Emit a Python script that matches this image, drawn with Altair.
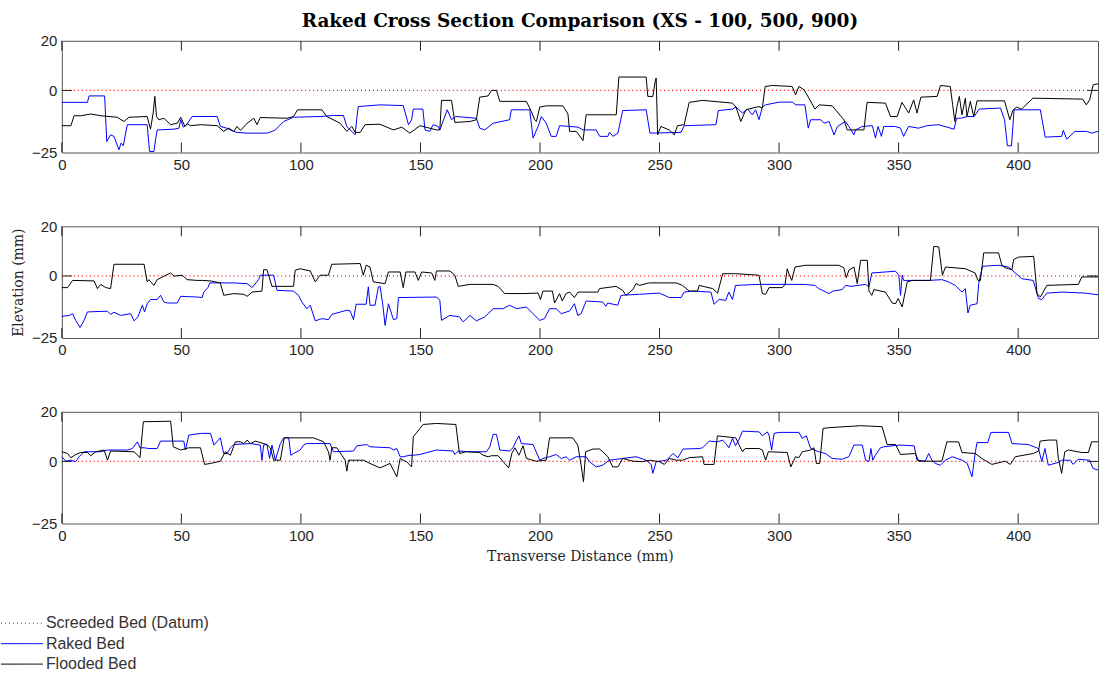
import altair as alt
import pandas as pd

# ---------------- values ----------------
X_MAX = 433.4
Y_DOMAIN = [-25, 20]
X_TICKS = [0, 50, 100, 150, 200, 250, 300, 350, 400]
Y_TICKS = [-25, 0, 20]
Y_INNER_TICKS = [0]
TITLE = "Raked Cross Section Comparison (XS - 100, 500, 900)"
X_TITLE = "Transverse Distance (mm)"
Y_TITLE = "Elevation (mm)"
LEGEND_LABELS = ["Screeded Bed (Datum)", "Raked Bed", "Flooded Bed"]
LEGEND_COLORS = ["#ff0000", "#0000ff", "#000000"]
LEGEND_DASHES = [[1, 3], [1, 0], [1, 0]]

datum_x = [0, 433.4]
datum_y = [0, 0]

xs100_raked = [(0,-4.8),(10.7,-4.8),(11.4,-2.2),(17.9,-2.2),(18.8,-20.6),(20.4,-17.9),(21.8,-18.5),(23.9,-23.9),(24.8,-21.2),(25.7,-22.3),(26.7,-17.2),(27.4,-13.8),(35.7,-13.8),(36.7,-24.6),(38.5,-24.6),(39.2,-19.9),(39.9,-15.9),(46.9,-15.6),(49.0,-15.2),(49.7,-11.8),(50.8,-14.8),(52.2,-13.8),(54.5,-10.5),(65.0,-10.5),(66.3,-14.5),(69.0,-15.2),(71.9,-16.5),(73.3,-16.9),(77.5,-17.2),(85.8,-17.2),(87.9,-16.5),(89.3,-15.9),(92.8,-12.5),(96.9,-10.8),(108.0,-10.5),(113.6,-10.1),(117.8,-10.1),(119.2,-14.5),(122.7,-17.9),(123.3,-11.8),(124.0,-6.5),(133.0,-5.8),(142.8,-6.1),(145.0,-13.8),(146.3,-11.8),(147.0,-7.5),(151.0,-7.5),(151.9,-15.9),(153.9,-16.5),(155.3,-13.8),(157.4,-14.5),(158.1,-15.9),(161.2,-7.8),(163.0,-11.8),(164.8,-10.5),(173.4,-11.2),(174.8,-15.2),(176.9,-15.9),(180.4,-13.2),(187.3,-11.8),(188.0,-7.8),(195.7,-7.8),(197.1,-19.2),(199.2,-14.5),(200.6,-10.5),(202.6,-13.2),(204.7,-18.5),(206.8,-18.5),(208.2,-14.2),(212.4,-14.5),(215.9,-14.8),(218.0,-15.9),(223.5,-15.9),(225.0,-18.5),(228.4,-18.5),(229.1,-16.8),(230.5,-18.5),(232.6,-17.2),(234.6,-8.1),(244.4,-7.8),(246.0,-17.2),(259.0,-16.9),(260.3,-14.2),(273.6,-13.8),(274.6,-8.1),(280.5,-7.5),(282.0,-6.7),(284.7,-9.1),(286.8,-7.5),(288.8,-9.8),(290.2,-7.8),(291.6,-11.8),(293.0,-6.7),(294.4,-5.8),(300.0,-4.7),(305.5,-4.7),(307.0,-5.8),(310.8,-5.8),(312.2,-15.2),(313.2,-11.8),(317.4,-11.8),(318.8,-13.2),(320.9,-12.5),(323.0,-17.9),(324.4,-14.5),(327.8,-12.5),(329.9,-15.6),(331.3,-17.9),(332.0,-15.9),(334.8,-14.5),(339.0,-14.2),(340.3,-19.2),(341.4,-14.5),(342.8,-18.5),(343.8,-14.5),(348.7,-14.5),(350.8,-15.2),(352.1,-18.5),(354.2,-14.5),(358.3,-15.2),(361.9,-14.2),(366.7,-13.8),(373.2,-15.6),(374.2,-11.2),(376.0,-11.2),(378.8,-10.5),(381.6,-10.5),(383.7,-7.5),(392.6,-7.1),(394.3,-11.8),(395.5,-22.3),(397.2,-22.3),(398.3,-7.8),(409.3,-7.8),(411.3,-18.8),(418.2,-18.5),(418.9,-16.1),(420.3,-19.6),(423.8,-16.5),(428.6,-16.5),(430.7,-17.2),(433.4,-16.5)]

xs100_flooded = [(0,-14.2),(3.8,-14.2),(5.1,-10.2),(7.9,-10.2),(12.1,-9.5),(16.3,-10.2),(23.2,-10.8),(26.0,-12.5),(28.1,-10.8),(35.7,-10.5),(37.1,-15.6),(38.2,-9.1),(38.9,-2.4),(39.6,-10.5),(40.6,-11.8),(42.7,-11.2),(45.5,-13.8),(48.3,-13.2),(49.7,-10.8),(51.5,-14.5),(52.4,-13.4),(53.8,-14.2),(58.0,-13.8),(65.0,-14.2),(67.7,-16.5),(69.8,-15.2),(71.9,-16.5),(73.3,-14.5),(74.7,-16.1),(77.5,-13.2),(80.3,-11.2),(81.6,-13.8),(83.0,-10.9),(94.2,-11.2),(96.9,-10.5),(98.6,-7.8),(108.8,-7.8),(110.8,-10.5),(116.4,-13.2),(119.2,-16.5),(121.3,-14.5),(122.7,-16.9),(124.8,-16.9),(126.8,-13.8),(133.0,-13.6),(138.7,-15.9),(142.2,-14.8),(145.6,-17.2),(149.8,-14.2),(156.7,-15.9),(158.1,-15.9),(158.8,-4.0),(163.0,-4.0),(164.4,-12.9),(170.7,-12.5),(173.4,-11.8),(174.8,-2.7),(178.3,-2.2),(179.7,0.0),(181.8,0.0),(183.2,-4.4),(194.3,-4.4),(196.4,-8.5),(197.8,-11.8),(198.5,-12.5),(199.9,-6.7),(202.6,-6.2),(209.6,-6.2),(211.7,-9.5),(212.4,-16.5),(215.2,-16.5),(218.0,-20.2),(219.3,-9.8),(231.9,-9.8),(233.0,5.4),(244.4,5.4),(245.1,-2.4),(247.2,-2.4),(248.3,4.3),(248.6,5.0),(249.2,-17.9),(250.6,-14.5),(254.0,-15.9),(256.2,-17.9),(257.5,-14.2),(260.3,-13.8),(262.4,-4.8),(268.0,-4.0),(280.5,-5.1),(282.0,-6.7),(284.0,-12.5),(286.1,-7.8),(288.9,-7.1),(291.6,-6.5),(293.0,-7.1),(294.2,1.6),(297.2,2.0),(305.5,1.6),(306.9,-1.8),(308.3,1.6),(310.4,0.3),(312.5,-3.1),(315.0,-7.5),(316.8,-5.8),(322.2,-6.2),(327.1,-11.8),(328.5,-15.9),(335.5,-15.9),(336.8,-4.8),(344.5,-5.1),(346.6,-10.5),(349.4,-10.5),(351.4,-4.8),(354.2,-9.1),(356.3,-3.8),(357.7,-9.1),(359.3,-2.7),(366.1,-2.4),(367.5,2.0),(371.6,1.6),(372.6,-5.8),(373.5,-12.5),(374.4,-6.5),(375.4,-2.4),(376.5,-9.8),(377.9,-3.1),(378.6,-10.5),(380.0,-4.4),(381.4,-10.5),(382.8,-4.2),(394.3,-4.2),(396.5,-11.8),(397.9,-7.8),(399.3,-6.7),(401.4,-7.5),(406.2,-3.1),(427.0,-3.5),(428.5,-5.8),(429.9,-3.8),(431.4,2.3),(433.4,2.7)]

xs500_raked = [(0,-16.3),(3.1,-15.9),(4.5,-15.2),(5.8,-17.9),(7.6,-20.8),(9.3,-17.9),(10.7,-14.5),(19.1,-14.2),(20.4,-15.5),(21.8,-14.6),(24.6,-15.9),(28.8,-15.2),(30.2,-18.1),(31.8,-16.5),(33.7,-11.8),(34.6,-14.5),(35.7,-11.2),(37.1,-9.5),(39.9,-9.5),(41.3,-7.8),(42.7,-10.5),(44.1,-10.9),(48.3,-10.9),(49.7,-8.2),(56.6,-8.5),(58.7,-8.7),(59.4,-6.5),(61.1,-4.7),(61.9,-2.8),(71.9,-2.8),(77.5,-3.1),(79.6,-4.7),(82.3,-1.5),(83.0,0.3),(88.6,0.3),(90.0,-5.8),(96.9,-6.1),(99.0,-7.8),(100.4,-10.5),(102.5,-13.2),(103.9,-11.8),(106.0,-18.1),(108.8,-17.2),(111.5,-17.6),(112.9,-15.5),(119.2,-13.8),(120.6,-14.1),(122.0,-17.6),(123.1,-11.4),(127.3,-11.4),(128.2,-4.4),(128.9,-11.8),(131.0,-11.8),(132.4,-4.4),(133.1,-4.2),(134.2,-11.2),(135.2,-19.9),(136.6,-11.2),(138.7,-17.6),(140.1,-17.2),(140.8,-8.7),(156.8,-8.5),(158.1,-9.8),(158.8,-17.9),(162.3,-15.9),(166.3,-16.5),(167.9,-18.5),(170.7,-15.9),(173.4,-18.1),(176.9,-16.5),(180.4,-13.2),(184.5,-13.2),(187.3,-11.8),(190.2,-13.2),(194.3,-12.5),(197.1,-15.2),(199.9,-17.9),(201.9,-17.2),(204.0,-13.2),(206.8,-13.2),(208.9,-15.2),(212.4,-14.1),(214.4,-11.2),(215.8,-15.9),(217.2,-15.2),(219.3,-10.1),(226.2,-10.5),(227.6,-12.2),(228.3,-10.9),(232.5,-11.8),(233.9,-7.8),(241.6,-7.4),(249.9,-6.9),(254.1,-8.7),(259.0,-8.7),(260.3,-6.5),(263.8,-6.1),(271.5,-6.5),(272.8,-11.4),(274.9,-9.5),(277.7,-9.8),(279.0,-6.5),(280.5,-9.5),(281.8,-3.8),(291.6,-3.4),(310.0,-3.4),(315.0,-3.8),(316.6,-5.1),(320.9,-7.1),(322.5,-6.1),(326.4,-5.5),(327.8,-3.8),(330.0,-4.2),(336.2,-3.4),(337.6,-4.4),(338.8,1.2),(348.7,1.9),(350.1,0.3),(350.8,-7.8),(351.5,0.3),(352.1,-1.8),(362.6,-1.8),(368.1,-1.5),(370.9,-2.4),(373.7,-3.8),(376.5,-6.5),(377.9,-5.1),(379.0,-14.9),(380.0,-11.8),(382.8,-11.2),(383.5,-3.1),(385.1,3.9),(391.8,4.3),(396.0,3.6),(401.5,-1.1),(406.3,-1.8),(408.5,-9.1),(409.9,-9.5),(412.0,-6.9),(418.2,-6.5),(427.9,-6.9),(433.4,-7.6)]

xs500_flooded = [(0,-4.7),(2.4,-4.7),(4.5,-1.8),(13.5,-2.0),(14.9,-5.1),(16.3,-3.4),(18.4,-4.7),(20.4,-5.1),(21.8,4.7),(34.4,4.7),(35.7,-2.4),(36.4,-1.5),(38.5,-3.8),(39.9,-1.5),(42.7,-0.1),(45.5,1.2),(46.9,-0.1),(50.3,0.3),(52.4,-1.5),(56.6,-1.8),(58.7,-1.8),(62.2,-2.0),(66.3,-2.8),(67.7,-7.8),(71.9,-7.1),(76.1,-7.4),(77.5,-8.2),(79.6,-6.5),(83.7,-6.1),(84.4,2.5),(85.8,2.5),(87.9,-4.2),(96.9,-4.2),(97.6,2.3),(99.7,2.9),(103.9,2.0),(106.0,-2.4),(108.0,0.3),(111.5,0.3),(112.9,4.7),(124.8,5.0),(126.1,0.3),(127.3,4.3),(128.9,3.6),(130.3,-2.4),(135.2,-3.1),(136.6,1.6),(141.5,1.6),(142.8,-4.7),(143.9,1.6),(147.7,1.6),(149.1,-1.8),(150.5,1.6),(154.7,1.2),(156.0,-1.8),(156.7,2.0),(162.3,2.0),(164.4,0.3),(165.8,-4.2),(170.7,-3.4),(180.4,-3.4),(182.5,-4.2),(185.2,-7.1),(192.9,-7.1),(199.2,-6.9),(200.2,-9.5),(201.2,-6.1),(205.2,-6.1),(206.1,-10.9),(208.2,-7.1),(209.3,-10.1),(210.9,-7.1),(212.4,-6.5),(214.4,-8.7),(215.9,-6.5),(224.2,-6.5),(224.9,-5.1),(231.8,-4.2),(234.6,-5.8),(236.0,-7.8),(238.8,-5.5),(240.2,-3.1),(241.6,-3.8),(244.4,-3.1),(245.8,-2.8),(256.9,-2.8),(259.6,-3.8),(262.4,-6.1),(265.9,-6.1),(266.6,-3.8),(272.2,-5.1),(274.3,-6.9),(276.4,0.9),(281.8,0.9),(291.6,0.3),(293.0,-7.1),(294.4,-7.4),(295.8,-4.7),(301.4,-4.7),(302.5,-3.4),(303.4,2.9),(304.2,0.7),(305.3,-1.8),(306.7,3.6),(311.1,4.3),(325.0,4.3),(327.1,3.3),(328.1,-0.7),(329.2,2.3),(331.3,3.6),(332.7,-3.1),(334.1,6.3),(336.9,6.3),(337.6,-6.1),(338.8,-7.8),(339.7,-5.5),(344.5,-6.5),(347.3,-10.9),(348.7,-11.2),(349.8,-9.1),(351.5,-12.5),(353.6,-2.4),(355.7,-1.8),(363.3,-1.8),(364.7,11.9),(366.8,11.7),(368.3,0.3),(369.6,3.6),(377.9,2.9),(382.0,1.2),(383.2,-1.8),(384.2,-1.8),(385.6,9.3),(391.8,9.3),(393.2,4.3),(394.6,3.3),(397.4,2.5),(398.1,6.6),(400.2,7.6),(406.5,7.9),(407.9,-7.1),(409.3,-8.5),(412.0,-3.8),(425.2,-3.4),(426.6,-0.4),(433.4,-0.4)]

xs900_raked = [(0,1.9),(1.7,0.1),(3.8,0.5),(5.8,-0.1),(7.2,1.9),(9.3,3.9),(16.3,3.9),(19.1,4.6),(27.4,4.6),(29.5,5.2),(31.6,7.9),(32.7,5.5),(34.4,5.5),(36.4,5.2),(39.9,5.2),(41.3,8.2),(51.0,8.2),(51.7,4.6),(53.1,10.6),(58.0,11.3),(62.2,11.3),(63.6,6.6),(66.3,9.5),(67.7,3.2),(69.1,3.2),(70.5,5.5),(71.9,6.8),(78.9,7.2),(83.0,6.6),(83.7,0.5),(84.4,6.6),(85.8,6.8),(86.9,1.2),(87.9,6.6),(89.3,0.5),(91.4,7.2),(92.8,9.5),(94.9,9.5),(95.8,2.5),(96.9,3.2),(99.7,4.6),(101.1,6.6),(102.5,7.2),(112.2,7.2),(113.6,3.9),(122.0,4.2),(123.4,6.3),(127.5,6.8),(128.9,5.9),(137.3,5.5),(138.7,4.6),(140.1,5.2),(141.5,1.9),(142.8,1.9),(145.6,2.5),(147.0,2.5),(149.8,2.8),(156.7,4.6),(163.7,4.2),(164.4,2.8),(165.8,4.2),(170.7,3.9),(177.6,3.9),(179.0,5.9),(180.4,10.9),(181.8,10.9),(183.2,4.6),(187.3,4.2),(188.7,5.5),(190.2,8.6),(191.2,10.3),(192.2,7.2),(197.1,6.8),(199.9,0.5),(201.2,1.2),(204.0,1.9),(206.8,2.8),(208.9,1.2),(210.9,1.9),(212.4,0.5),(215.2,1.9),(219.3,1.9),(220.7,-0.1),(223.5,-2.2),(226.2,-1.5),(229.0,0.5),(240.2,1.9),(244.4,0.5),(246.5,-1.2),(247.2,-4.8),(248.6,-0.1),(252.9,0.5),(255.6,3.2),(257.7,1.5),(259.8,5.0),(266.6,5.2),(268.0,5.5),(270.8,8.2),(274.3,7.9),(276.4,8.6),(277.7,7.2),(279.0,5.5),(280.5,9.3),(281.8,6.3),(283.3,9.0),(284.7,12.2),(291.7,11.9),(293.0,10.3),(295.1,11.9),(295.8,10.6),(296.9,4.6),(297.9,11.3),(300.0,11.7),(308.3,11.7),(309.7,9.3),(311.4,10.3),(313.2,5.2),(316.6,3.9),(319.4,3.2),(322.2,1.2),(326.4,0.9),(329.2,1.9),(331.3,6.6),(334.8,6.6),(336.2,0.5),(337.6,-0.1),(338.4,5.2),(339.2,0.5),(340.3,2.5),(342.4,5.5),(343.8,5.9),(350.4,6.6),(356.5,6.3),(357.7,0.5),(361.1,0.1),(362.6,3.2),(363.9,0.5),(365.3,-0.8),(367.5,-1.5),(369.6,0.5),(372.4,1.9),(376.6,0.5),(378.7,-0.8),(380.7,-6.2),(382.1,3.9),(382.8,7.6),(387.3,7.6),(388.6,11.7),(396.0,11.7),(397.4,7.2),(404.3,6.8),(408.5,5.2),(409.9,-0.1),(411.2,5.2),(412.6,-1.5),(416.8,-0.4),(418.2,0.5),(421.7,0.5),(423.0,-1.2),(425.1,0.9),(429.9,0.5),(431.3,-2.8),(433.4,-3.5)]

xs900_flooded = [(0,3.9),(2.4,3.2),(3.8,1.5),(5.8,2.8),(7.9,3.6),(10.7,3.6),(12.1,2.3),(14.2,3.9),(17.7,4.6),(19.1,0.5),(20.4,4.2),(30.2,3.9),(32.7,1.5),(34.1,16.0),(45.5,16.2),(46.6,5.9),(49.7,4.6),(53.1,5.5),(58.0,5.5),(59.7,-1.2),(62.2,-0.8),(66.3,0.1),(68.4,3.9),(70.5,2.5),(72.6,7.9),(74.7,7.9),(76.1,7.2),(77.5,8.6),(78.9,7.2),(80.9,8.2),(85.8,6.8),(87.2,5.5),(88.6,0.5),(91.4,0.5),(93.0,9.5),(105.3,9.5),(109.5,7.9),(111.5,3.9),(112.2,0.5),(112.9,5.5),(115.0,5.5),(117.1,2.5),(118.5,0.5),(119.2,-3.9),(119.9,0.5),(126.1,0.5),(128.9,-0.8),(133.1,-2.6),(137.3,-0.8),(140.1,-6.2),(141.5,1.2),(142.8,0.5),(144.2,-0.1),(146.3,-2.2),(147.0,9.9),(149.8,13.3),(151.1,14.9),(156.7,15.3),(164.8,14.9),(166.3,3.2),(169.1,3.9),(174.8,3.6),(176.2,2.5),(178.3,1.9),(179.7,2.3),(182.5,2.3),(184.6,-0.1),(186.9,-2.6),(188.2,3.2),(189.5,5.5),(191.2,2.5),(192.9,6.3),(194.3,1.2),(198.5,0.1),(202.6,0.5),(204.0,9.5),(213.7,9.5),(215.8,6.6),(217.2,-1.5),(218.2,-8.2),(219.1,3.9),(222.2,5.0),(225.0,5.0),(228.4,1.9),(230.4,-2.2),(232.6,-2.2),(234.6,1.2),(238.8,0.1),(243.0,-0.1),(245.8,0.5),(249.9,-0.1),(252.0,-1.2),(254.1,1.2),(256.9,0.5),(259.6,0.5),(262.4,1.5),(268.0,1.9),(268.6,-1.2),(272.8,-1.2),(274.2,10.3),(281.9,9.5),(283.3,6.6),(284.7,3.9),(285.8,5.2),(291.6,5.2),(293.0,4.6),(294.4,0.5),(295.5,3.9),(303.4,3.6),(304.9,-2.2),(306.2,0.5),(306.9,1.9),(308.3,1.5),(309.7,3.9),(313.2,4.6),(314.6,5.5),(315.6,-0.8),(317.0,-0.8),(318.4,13.3),(320.9,13.6),(334.1,14.4),(343.1,14.0),(345.2,6.8),(348.7,6.8),(350.8,2.8),(357.0,3.2),(358.4,0.1),(368.1,0.1),(370.2,7.9),(375.1,7.9),(376.5,3.6),(382.0,3.2),(384.8,1.2),(389.0,-1.2),(394.6,0.1),(396.7,-1.2),(398.8,1.9),(406.4,3.2),(408.5,4.2),(409.2,8.2),(412.6,8.6),(416.1,8.6),(416.8,1.2),(418.2,-4.8),(419.5,3.9),(421.0,4.6),(426.6,3.6),(429.4,3.6),(430.7,7.9),(433.4,7.9)]

# ---------------- layout constants ----------------
PANEL_W = 1039
PANEL_H = 112
SANS = "Liberation Sans"
SERIF = "DejaVu Serif"


def frame(points):
    return pd.DataFrame({"x": [p[0] for p in points],
                         "y": [p[1] for p in points],
                         "i": list(range(len(points)))})


def panel(raked, flooded, x_title=None, y_title=None, title=None):
    xs = alt.Scale(domain=[0, X_MAX], nice=False, zero=False)
    ys = alt.Scale(domain=Y_DOMAIN, nice=False, zero=False)
    xaxis = alt.Axis(values=X_TICKS, tickSize=0, domain=False, grid=False,
                     labelFlush=False, labelPadding=5, titlePadding=6,
                     labelFont=SANS, labelFontSize=15, labelColor="#262626",
                     titleFont=SERIF, titleFontSize=14, titleFontWeight="normal",
                     titleColor="#262626")
    yaxis = alt.Axis(values=Y_TICKS, tickSize=0, domain=False, grid=False,
                     labelFlush=False, labelPadding=5, titlePadding=6,
                     labelFont=SANS, labelFontSize=15, labelColor="#262626",
                     titleFont=SERIF, titleFontSize=14, titleFontWeight="normal",
                     titleColor="#262626")
    X = alt.X("x:Q", scale=xs, axis=xaxis, title=x_title)
    Y = alt.Y("y:Q", scale=ys, axis=yaxis, title=y_title)

    datum = alt.Chart(frame(list(zip(datum_x, datum_y)))).mark_line(
        color=LEGEND_COLORS[0], strokeDash=LEGEND_DASHES[0], strokeWidth=1.2
    ).encode(x=X, y=Y, order="i:Q")
    rk = alt.Chart(frame(raked)).mark_line(color=LEGEND_COLORS[1], strokeWidth=1).encode(
        x=X, y=Y, order="i:Q")
    fl = alt.Chart(frame(flooded)).mark_line(color=LEGEND_COLORS[2], strokeWidth=1).encode(
        x=X, y=Y, order="i:Q")

    tdf = pd.DataFrame({"x": X_TICKS})
    top_ticks = alt.Chart(tdf).mark_rule(color="#222222", strokeWidth=1).encode(
        x=alt.X("x:Q", scale=xs), y=alt.value(0), y2=alt.value(10))
    bot_ticks = alt.Chart(tdf).mark_rule(color="#222222", strokeWidth=1).encode(
        x=alt.X("x:Q", scale=xs), y=alt.value(PANEL_H - 10), y2=alt.value(PANEL_H))
    ydf = pd.DataFrame({"y": Y_INNER_TICKS})
    left_ticks = alt.Chart(ydf).mark_rule(color="#222222", strokeWidth=1).encode(
        y=alt.Y("y:Q", scale=ys), x=alt.value(0), x2=alt.value(10))
    right_ticks = alt.Chart(ydf).mark_rule(color="#222222", strokeWidth=1).encode(
        y=alt.Y("y:Q", scale=ys), x=alt.value(PANEL_W - 10), x2=alt.value(PANEL_W))

    ch = alt.layer(datum, rk, fl, top_ticks, bot_ticks, left_ticks, right_ticks).properties(
        width=PANEL_W, height=PANEL_H,
        view=alt.ViewBackground(stroke="#555555", strokeWidth=1))
    if title is not None:
        ch = ch.properties(title=alt.TitleParams(
            text=title, font=SERIF, fontSize=18.5, fontWeight="bold", color="#000000",
            anchor="middle", offset=3))
    return ch


p1 = panel(xs100_raked, xs100_flooded, title=TITLE)
p2 = panel(xs500_raked, xs500_flooded, y_title=Y_TITLE)
p3 = panel(xs900_raked, xs900_flooded, x_title=X_TITLE)

# legend drawn as its own small view
ldf = pd.DataFrame({"label": LEGEND_LABELS})
lscale_y = alt.Scale(type="point", domain=LEGEND_LABELS, range=[26, 67], padding=0)
lcolor = alt.Color("label:N", scale=alt.Scale(domain=LEGEND_LABELS, range=LEGEND_COLORS), legend=None)
ldash = alt.StrokeDash("label:N", scale=alt.Scale(domain=LEGEND_LABELS, range=LEGEND_DASHES), legend=None)
leg_lines = alt.Chart(ldf).mark_rule(strokeWidth=1).encode(
    y=alt.Y("label:N", scale=lscale_y, axis=None),
    x=alt.value(-61), x2=alt.value(-19), color=lcolor, strokeDash=ldash)
leg_text = alt.Chart(ldf).mark_text(align="left", baseline="middle", font=SANS,
                                    fontSize=16, color="#333333").encode(
    y=alt.Y("label:N", scale=lscale_y, axis=None),
    x=alt.value(-16), text="label:N")
legend = alt.layer(leg_lines, leg_text).properties(
    width=200, height=74, view=alt.ViewBackground(stroke="transparent"))

chart = alt.vconcat(p1, p2, p3, legend, spacing=74, bounds="flush").properties(
    padding={"left": 0, "top": 11, "right": 0, "bottom": 0},
    background="white"
)

chart.save("out.html", embed_options={"renderer": "svg", "actions": False})
